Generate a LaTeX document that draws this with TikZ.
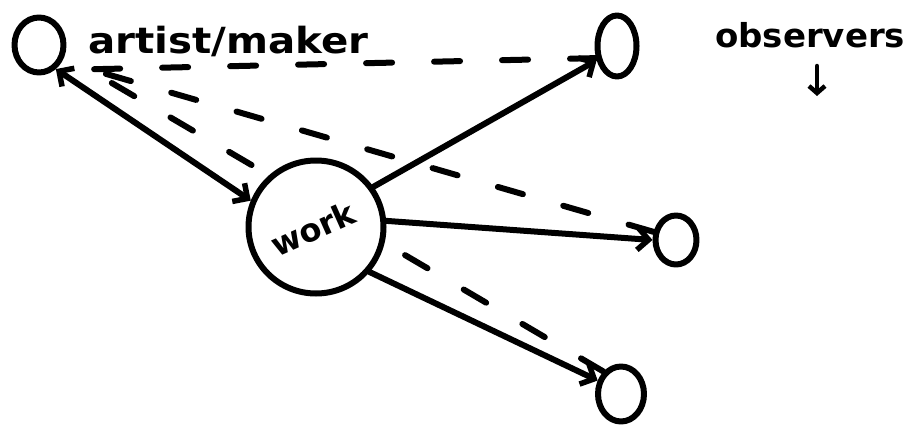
\documentclass[tikz,border=0pt]{standalone}
\usepackage{fontspec}
\usepackage{graphicx}
\setsansfont{DejaVu Sans}
\usetikzlibrary{shapes.geometric,arrows.meta,backgrounds}
\tikzset{
  ink/.style={line width=6pt, line cap=round, line join=round},
  blob/.style={ellipse, draw, ink, inner sep=0pt, fill=white},
  barb/.tip={Straight Barb[length=11pt,width=22pt,line width=5.5pt]},
  solidarrow/.style={ink, -barb},
  dasharrow/.style={ink, dash pattern=on 26pt off 42pt},
  hand/.style={font=\sffamily\bfseries, inner sep=0pt}
}
\begin{document}
\begin{tikzpicture}[x=1pt,y=-1pt]
\useasboundingbox (0,0) rectangle (918,431);
\node[blob, minimum width=49pt, minimum height=55pt] (artist) at (39,45) {};
\node[blob, minimum width=39pt, minimum height=61pt] (obs1) at (617,46) {};
\node[blob, minimum width=41pt, minimum height=49pt] (obs2) at (676,240) {};
\node[blob, minimum width=46pt, minimum height=55pt] (obs3) at (621,394) {};
\node[blob, minimum width=135pt, minimum height=133pt] (work) at (316,227) {};
\node[hand, rotate=24, font=\sffamily\bfseries\fontsize{32}{32}\selectfont] (worklabel) at (313,229) {work};
\node[hand, anchor=base west, font=\sffamily\bfseries\fontsize{36}{36}\selectfont] (artistlabel) at (88,53) {\scalebox{1.12}[1]{artist/maker}};
\node[hand, anchor=base west, font=\sffamily\bfseries\fontsize{33}{33}\selectfont] (obslabel) at (715,47) {\scalebox{1.03}[1]{observers}};
\coordinate (downtop) at (817,66);
\coordinate (downbot) at (817,96);
\draw[ink, line width=4.5pt, -{Straight Barb[length=7pt,width=16pt,line width=4.5pt]}] (downtop) -- (downbot);
\begin{scope}[on background layer]
  \draw[dasharrow, shorten >=14pt] (obs1.210) -- (artist.-58);
  \draw[dasharrow, shorten >=10pt] (obs2.160) -- (artist.-35);
  \draw[dasharrow, shorten >=16pt] (obs3.128) -- (artist.-22);
\end{scope}
\draw[ink, barb-barb] (artist.-55) -- (work.158);
\draw[solidarrow] (work.35) -- (obs1.215);
\draw[solidarrow] (work.5) -- (obs2.180);
\draw[solidarrow] (work.-40) -- (obs3.150);
\end{tikzpicture}
\end{document}
